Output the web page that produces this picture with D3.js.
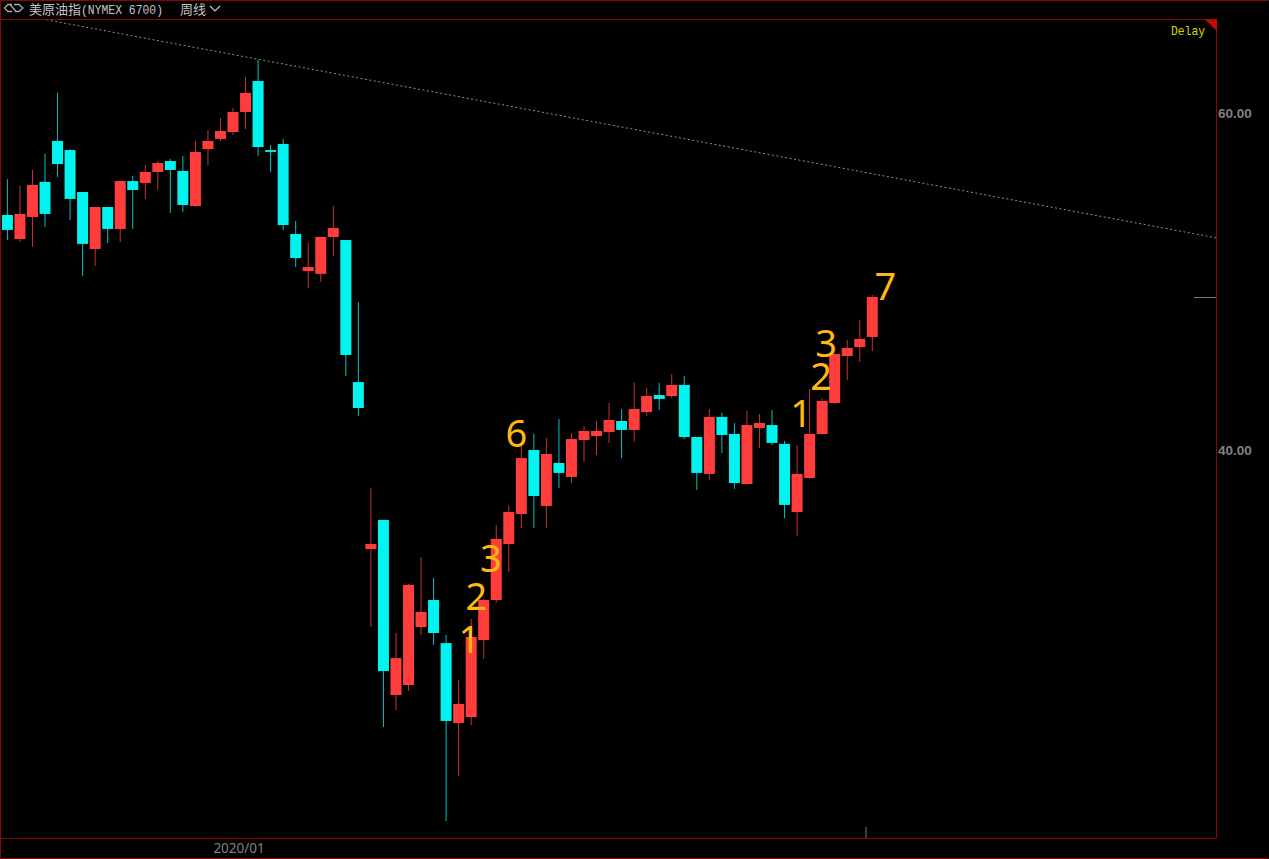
<!DOCTYPE html>
<html>
<head>
<meta charset="utf-8">
<title>美原油指 周线</title>
<script src="https://d3js.org/d3.v7.min.js"></script>
<style>
    html, body { margin: 0; padding: 0; background: #000; overflow: hidden; }
    svg { display: block; }
</style>
</head>
<body>
<script>
var weeks = ['2019/08/19','2019/08/26','2019/09/02','2019/09/09','2019/09/16','2019/09/23','2019/09/30','2019/10/07','2019/10/14','2019/10/21',
    '2019/10/28','2019/11/04','2019/11/11','2019/11/18','2019/11/25','2019/12/02','2019/12/09','2019/12/16','2019/12/23','2019/12/30',
    '2020/01/06','2020/01/13','2020/01/20','2020/01/27','2020/02/03','2020/02/10','2020/02/17','2020/02/24','2020/03/02','2020/03/09',
    '2020/03/16','2020/03/23','2020/03/30','2020/04/06','2020/04/13','2020/04/20','2020/04/27','2020/05/04','2020/05/11','2020/05/18',
    '2020/05/25','2020/06/01','2020/06/08','2020/06/15','2020/06/22','2020/06/29','2020/07/06','2020/07/13','2020/07/20','2020/07/27',
    '2020/08/03','2020/08/10','2020/08/17','2020/08/24','2020/08/31','2020/09/07','2020/09/14','2020/09/21','2020/09/28','2020/10/05',
    '2020/10/12','2020/10/19','2020/10/26','2020/11/02','2020/11/09','2020/11/16','2020/11/23','2020/11/30','2020/12/07','2020/12/14'];

var opens = [54.01,52.58,53.89,55.97,58.40,57.86,55.37,51.99,54.48,53.18,
    56.02,55.91,56.56,57.21,56.62,54.54,57.92,58.52,58.93,60.12,
    61.96,57.86,58.22,52.88,50.68,50.51,52.70,52.52,44.09,34.18,
    35.91,25.52,26.11,29.55,31.16,28.60,23.86,24.21,28.78,31.16,
    34.48,36.26,40.06,36.74,39.29,38.46,40.65,40.89,41.13,41.78,
    41.25,42.31,43.32,43.26,43.92,40.83,38.64,42.02,41.01,38.04,
    41.37,41.54,40.42,36.38,38.40,41.01,42.85,45.64,46.17,46.77];

var closes = [53.12,54.07,55.79,54.07,57.03,54.96,52.29,54.48,53.18,56.02,
    55.49,56.56,57.09,56.68,54.60,57.75,58.40,58.99,60.12,61.25,
    58.04,57.75,53.41,51.45,50.92,52.70,53.23,45.70,42.55,34.48,
    26.94,27.71,32.05,30.45,29.20,23.98,24.99,28.96,31.16,34.78,
    36.38,39.58,37.33,39.82,38.70,40.71,41.19,41.19,41.84,41.25,
    42.49,43.26,43.09,43.92,40.83,38.70,42.02,40.95,38.10,41.54,
    41.66,40.48,36.80,38.64,41.01,42.97,45.76,46.11,46.65,49.14];

var highs = [56.14,55.73,56.68,57.63,61.25,57.92,55.37,54.48,54.48,56.02,
    56.32,56.97,57.21,57.33,57.51,58.40,59.05,59.76,60.36,62.20,
    63.20,58.16,58.52,53.65,52.34,52.70,54.54,52.52,48.84,37.80,
    35.91,29.20,32.11,33.71,32.46,29.08,26.41,30.03,31.22,35.61,
    36.74,40.36,41.01,40.77,41.90,41.07,41.48,41.78,42.85,42.49,
    44.09,43.74,44.04,44.56,44.45,40.83,42.49,42.26,41.66,42.37,
    42.20,42.43,40.60,40.36,43.68,43.15,45.76,46.59,47.77,49.26];

var lows = [52.52,52.40,52.11,53.29,56.26,53.71,50.39,50.98,52.34,52.40,
    53.18,54.96,55.49,54.13,54.18,54.48,56.97,58.40,58.75,59.11,
    57.51,56.56,53.12,50.92,49.67,50.03,51.57,44.45,42.08,29.55,
    23.62,24.63,25.76,29.08,28.49,18.04,20.71,23.74,27.66,30.98,
    32.82,35.43,35.43,35.43,37.80,38.10,39.35,39.77,40.48,39.58,
    40.53,42.08,42.43,43.15,40.71,37.69,38.28,39.88,37.75,38.04,
    40.18,40.36,36.02,34.96,38.34,41.01,42.79,44.21,45.28,45.93];

// wave counts, week position (fractional) and price of the digit's baseline
var waveLabels = ['1','2','3','6','1','2','3','7'];
var waveWeeks = [36.85,37.42,38.58,40.61,63.33,64.91,65.31,70.05];
var wavePrices = [28.01,30.56,32.82,40.24,41.42,43.62,45.58,48.96];

// trend line runs past the last bar, so it is given in week numbers
var trendWeeks = [2.76,96.5];
var trendPrices = [65.64,52.64];

var lastPriceWeeks = [94.66,96.5];
var lastPriceValue = 49.14;

var stubWeek = 68.5;
var stubPrices = [17.69,17.03];

var priceTicks = [40,60];
var timeTickWeek = '2019/12/30';
var timeTickLabel = '2020/01';

function main(){

    var width = 1269, height = 859;
    var plot = {left: 0.5, right: 1216.5, top: 19.5, bottom: 838.5};

    var svg = d3.select('body')
        .append('svg')
        .attr('width', width)
        .attr('height', height)
        .style('background', '#000');

    svg.append('clipPath').attr('id', 'plot-clip')
        .append('rect')
        .attr('x', plot.left)
        .attr('y', plot.top)
        .attr('width', plot.right - plot.left)
        .attr('height', plot.bottom - plot.top);

    var x = d3.scaleLinear().domain([0, weeks.length - 1]).range([7.4, 872.3]);
    var y = d3.scaleLinear().domain([40, 60]).range([451, 114]);

    var red = '#ff3d3d', cyan = '#00f5f0', frame = '#8a0606';
    var bodyWidth = 11;

    var bars = weeks.map(function(w, i){
        return {i: i, open: opens[i], close: closes[i], high: highs[i], low: lows[i]};
    });
    function barColor(d){ return d.close >= d.open ? red : cyan; }

    var chart = svg.append('g').attr('clip-path', 'url(#plot-clip)');

    // trend line
    chart.append('line')
        .attr('x1', x(trendWeeks[0])).attr('y1', y(trendPrices[0]))
        .attr('x2', x(trendWeeks[1])).attr('y2', y(trendPrices[1]))
        .attr('stroke', '#b4b4b4')
        .attr('stroke-width', 0.8)
        .attr('stroke-dasharray', '2 2.5');

    // wicks
    chart.selectAll('line.wick').data(bars).enter().append('line')
        .attr('class', 'wick')
        .attr('x1', function(d){ return x(d.i); })
        .attr('x2', function(d){ return x(d.i); })
        .attr('y1', function(d){ return y(d.high); })
        .attr('y2', function(d){ return y(d.low); })
        .attr('stroke', barColor)
        .attr('stroke-width', 0.8);

    // bodies
    chart.selectAll('rect.body').data(bars).enter().append('rect')
        .attr('class', 'body')
        .attr('x', function(d){ return x(d.i) - bodyWidth / 2; })
        .attr('width', bodyWidth)
        .attr('y', function(d){ return y(Math.max(d.open, d.close)); })
        .attr('height', function(d){ return Math.abs(y(d.open) - y(d.close)); })
        .attr('fill', barColor);

    // last price mark and the little stub on the bottom edge
    chart.append('line')
        .attr('x1', x(lastPriceWeeks[0])).attr('x2', x(lastPriceWeeks[1]))
        .attr('y1', Math.round(y(lastPriceValue)) + 0.5).attr('y2', Math.round(y(lastPriceValue)) + 0.5)
        .attr('stroke', '#7a7a7a');
    chart.append('line')
        .attr('x1', x(stubWeek)).attr('x2', x(stubWeek))
        .attr('y1', y(stubPrices[0])).attr('y2', y(stubPrices[1]))
        .attr('stroke', '#7a7a7a');

    // wave numbers
    svg.selectAll('text.wave').data(waveLabels).enter().append('text')
        .attr('class', 'wave')
        .attr('x', function(d, i){ return x(waveWeeks[i]); })
        .attr('y', function(d, i){ return y(wavePrices[i]); })
        .attr('text-anchor', 'middle')
        .attr('font-family', '"Noto Sans"')
        .attr('font-size', 38)
        .attr('fill', '#ffb90f')
        .text(function(d){ return d; });

    // frame, the lower rule stops where the price column starts
    var lines = [
        [0.5, 0.5, 0.5, 858.5], [0.5, 0.5, 1268.5, 0.5], [0.5, 858.5, 1268.5, 858.5],
        [0.5, plot.top, plot.right, plot.top], [plot.right, plot.top, plot.right, plot.bottom], [0.5, plot.bottom, plot.right, plot.bottom]
    ];
    svg.selectAll('line.frame').data(lines).enter().append('line')
        .attr('class', 'frame')
        .attr('x1', function(d){ return d[0]; })
        .attr('y1', function(d){ return d[1]; })
        .attr('x2', function(d){ return d[2]; })
        .attr('y2', function(d){ return d[3]; })
        .attr('stroke', frame);

    svg.append('path')
        .attr('d', 'M1205 19.5 H1217 V31 Z')
        .attr('fill', '#c80a0a');

    // axes
    var yAxis = d3.axisRight(y)
        .tickValues(priceTicks)
        .tickFormat(d3.format('.2f'))
        .tickSize(0)
        .tickPadding(2);
    var yG = svg.append('g').attr('transform', 'translate(' + 1216 + ',-1)').call(yAxis);
    yG.select('.domain').remove();
    yG.selectAll('text')
        .attr('font-family', '"Liberation Sans"')
        .attr('font-size', 13.5)
        .attr('font-weight', 'bold')
        .attr('fill', '#808080');

    var xAxis = d3.axisBottom(x)
        .tickValues([weeks.indexOf(timeTickWeek)])
        .tickFormat(function(){ return timeTickLabel; })
        .tickSize(0)
        .tickPadding(0);
    var xG = svg.append('g').attr('transform', 'translate(0,' + 843 + ')').call(xAxis);
    xG.select('.domain').remove();
    xG.selectAll('text')
        .attr('dx', -7)
        .attr('font-family', '"Noto Sans"')
        .attr('font-size', 13.5)
        .attr('fill', '#808080');

    // header
    svg.append('text')
        .attr('x', 29)
        .attr('y', 14)
        .attr('fill', '#c4c4c4')
        .attr('font-family', '"Noto Sans CJK SC"')
        .attr('font-size', 13)
        .text('美原油指');
    svg.append('text')
        .attr('x', 81)
        .attr('y', 14)
        .attr('fill', '#c4c4c4')
        .attr('font-family', '"Liberation Mono"')
        .attr('font-size', 13)
        .attr('textLength', 82)
        .attr('lengthAdjust', 'spacingAndGlyphs')
        .text('(NYMEX 6700)');
    svg.append('text')
        .attr('x', 180)
        .attr('y', 14)
        .attr('fill', '#c4c4c4')
        .attr('font-family', '"Noto Sans CJK SC"')
        .attr('font-size', 13)
        .text('周线');
    svg.append('path')
        .attr('d', 'M210 6 L215 11 L220 6')
        .attr('fill', 'none')
        .attr('stroke', '#c4c4c4')
        .attr('stroke-width', 1.2);
    svg.append('path')
        .attr('d', 'M12 4.5 H8 L4.5 8 L8 11.5 H12 M10 4.5 L16 11.5 M14 4.5 H19 L23 8 L19 11.5 H15')
        .attr('fill', 'none')
        .attr('stroke', '#a8a8a8')
        .attr('stroke-width', 1.3);

    svg.append('text')
        .attr('x', 1171)
        .attr('y', 35)
        .attr('fill', '#d8d800')
        .attr('font-family', '"Liberation Mono"')
        .attr('font-size', 13)
        .attr('textLength', 34)
        .attr('lengthAdjust', 'spacingAndGlyphs')
        .text('Delay');
}

main();
</script>
</body>
</html>
